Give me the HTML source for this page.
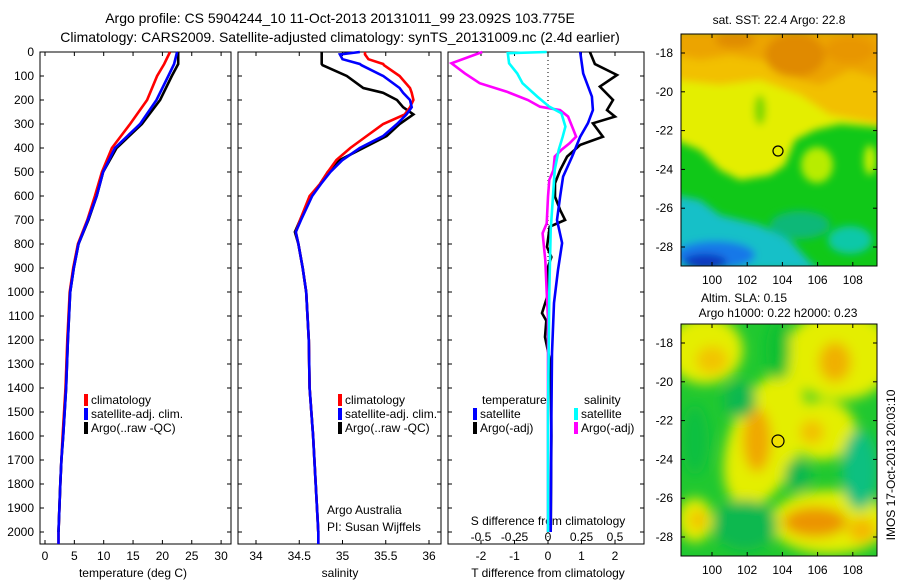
<!DOCTYPE html>
<html><head><meta charset="utf-8"><style>
html,body{margin:0;padding:0;background:#fff;}
svg{display:block;font-family:"Liberation Sans",sans-serif;}
text{font-size:12px;fill:#000;}
</style></head><body>
<svg id="chart" width="900" height="580" viewBox="0 0 900 580" xmlns="http://www.w3.org/2000/svg">
<defs>
<filter id="blur1" x="-20%" y="-20%" width="140%" height="140%"><feGaussianBlur stdDeviation="4"/></filter>
<filter id="blur2" x="-20%" y="-20%" width="140%" height="140%"><feGaussianBlur stdDeviation="6"/></filter>
<clipPath id="clipTop"><rect x="681" y="34" width="196" height="232"/></clipPath>
<clipPath id="clipBot"><rect x="681" y="324" width="196" height="232"/></clipPath>
</defs>
<text x="340" y="23" text-anchor="middle" style="font-size:14px">Argo profile: CS 5904244_10 11-Oct-2013 20131011_99 23.092S 103.775E</text>
<text x="340" y="42" text-anchor="middle" style="font-size:14px">Climatology: CARS2009. Satellite-adjusted climatology: synTS_20131009.nc (2.4d earlier)</text>

<!-- top SST map -->
<g clip-path="url(#clipTop)">
<rect x="681" y="34" width="196" height="232" fill="#10c818"/>
<g filter="url(#blur1)">
<polygon points="675,30 885,30 885,128 840,124 815,130 795,140 785,165 770,175 740,180 720,170 700,150 675,140" fill="#e4ee00"/>
<polygon points="675,30 885,30 885,125 830,115 800,95 760,80 720,85 675,80" fill="#f2c000"/>
<polygon points="675,30 885,30 885,80 850,70 820,85 800,80 770,62 730,55 700,60 675,55" fill="#eca400"/>
<ellipse cx="795" cy="55" rx="30" ry="22" fill="#e08a00"/>
<ellipse cx="735" cy="40" rx="20" ry="8" fill="#e08c00"/>
<ellipse cx="850" cy="50" rx="25" ry="14" fill="#e89600"/>
<ellipse cx="817" cy="165" rx="16" ry="18" fill="#b8ec00"/>
<ellipse cx="760" cy="110" rx="6" ry="15" fill="#7cd800"/>
<ellipse cx="870" cy="160" rx="6" ry="15" fill="#c8f000"/>
<polygon points="675,195 700,200 720,215 760,225 790,240 810,262 820,270 675,270" fill="#14c0c8"/>
<ellipse cx="715" cy="255" rx="40" ry="14" fill="#1878e8"/>
<ellipse cx="705" cy="262" rx="22" ry="8" fill="#0838c0"/>
<ellipse cx="850" cy="240" rx="22" ry="14" fill="#10c8a8"/>
<ellipse cx="800" cy="225" rx="30" ry="14" fill="#10b878"/>
</g>
</g>
<rect x="681" y="34" width="196" height="232" fill="none" stroke="#000"/>
<circle cx="778" cy="151" r="5" fill="none" stroke="#000" stroke-width="1.2"/>
<text x="779" y="24" text-anchor="middle">sat. SST: 22.4 Argo: 22.8</text>

<!-- bottom SLA map -->
<g clip-path="url(#clipBot)">
<rect x="681" y="324" width="196" height="232" fill="#20c830"/>
<g filter="url(#blur2)">
<ellipse cx="705" cy="350" rx="38" ry="34" fill="#e4ee00"/>
<ellipse cx="840" cy="355" rx="55" ry="45" fill="#e4ee00"/>
<ellipse cx="765" cy="440" rx="36" ry="70" fill="#e4ee00" transform="rotate(20 765 440)"/>
<ellipse cx="822" cy="430" rx="34" ry="30" fill="#e4ee00"/>
<ellipse cx="830" cy="522" rx="60" ry="32" fill="#e4ee00"/>
<ellipse cx="695" cy="520" rx="18" ry="22" fill="#e4ee00"/>
<ellipse cx="712" cy="360" rx="16" ry="14" fill="#f2c400"/>
<ellipse cx="835" cy="362" rx="16" ry="20" fill="#f0b000"/>
<ellipse cx="757" cy="440" rx="14" ry="32" fill="#f0a800"/>
<ellipse cx="812" cy="432" rx="12" ry="12" fill="#f2c000"/>
<ellipse cx="815" cy="522" rx="32" ry="15" fill="#ec9400"/>
<ellipse cx="862" cy="530" rx="14" ry="12" fill="#f4b800"/>
<ellipse cx="698" cy="520" rx="8" ry="10" fill="#f4bc00"/>
<ellipse cx="740" cy="400" rx="16" ry="18" fill="#10b850"/>
<ellipse cx="778" cy="350" rx="12" ry="30" fill="#10c030"/>
<ellipse cx="695" cy="440" rx="14" ry="35" fill="#10c040"/>
<ellipse cx="798" cy="475" rx="13" ry="16" fill="#10b850"/>
<ellipse cx="860" cy="470" rx="18" ry="40" fill="#10c080"/>
<ellipse cx="745" cy="525" rx="32" ry="25" fill="#10b850"/>
</g>
</g>
<rect x="681" y="324" width="196" height="232" fill="none" stroke="#000"/>
<circle cx="778" cy="441" r="6" fill="#f0e000" stroke="#000" stroke-width="1.2"/>
<text x="744" y="302" text-anchor="middle">Altim. SLA: 0.15</text>
<text x="778" y="317" text-anchor="middle">Argo h1000: 0.22 h2000: 0.23</text>
<text transform="translate(895,465) rotate(-90)" text-anchor="middle">IMOS 17-Oct-2013 20:03:10</text>

<g id="plots"></g>
</svg>
<script>
// ===== data =====
var depthTicks = [0,100,200,300,400,500,600,700,800,900,1000,1100,1200,1300,1400,1500,1600,1700,1800,1900,2000];
var tempTicks = [0,5,10,15,20,25,30];
var salTicks = [34,34.5,35,35.5,36];
var tdiffTicks = [-2,-1,0,1,2];
var sdiffTicks = [-0.5,-0.25,0,0.25,0.5];
var sdiffLabels = ["-0.5","-0.25","0","0.25","0.5"];

var tDepth = [0,50,100,200,300,400,500,600,700,800,900,1000,1200,1400,1600,1700,1800,2000,2050];
var tClim  = [21.3,20.3,19.1,17.4,14.5,11.4,9.7,8.5,7.2,5.6,4.8,4.2,3.8,3.5,3.0,2.8,2.6,2.3,2.3];
var tSat   = [22.5,22.0,21.0,19.0,16.2,11.9,9.9,8.8,7.3,5.7,4.9,4.3,3.9,3.6,3.1,2.8,2.6,2.3,2.3];
var tArgo  = [22.7,22.7,21.6,19.6,16.5,12.2,9.9,8.8,7.4,5.7,4.9,4.3,3.9,3.6,3.1,2.8,2.6,2.3];

var sDepth = [0,10,30,50,55,100,150,170,200,230,260,300,350,400,450,500,550,600,700,750,800,900,1000,1200,1400,1600,1800,2000,2050];
var sClim  = [35.26,35.26,35.30,35.47,35.48,35.66,35.78,35.80,35.82,35.78,35.72,35.47,35.28,35.09,34.93,34.83,34.74,34.62,34.51,34.46,34.49,34.54,34.58,34.61,34.62,34.66,34.69,34.72,34.72];
var sSat   = [35.20,34.97,35.00,35.20,35.22,35.47,35.66,35.70,35.78,35.80,35.74,35.63,35.47,35.20,35.00,34.86,34.75,34.65,34.52,34.46,34.49,34.54,34.58,34.61,34.62,34.66,34.69,34.72,34.72];
var sArgo  = [34.76,34.76,34.76,34.76,34.77,35.05,35.24,35.47,35.63,35.70,35.82,35.66,35.51,35.24,34.97,34.83,34.74,34.63,34.51,34.45,34.49,34.54,34.58,34.61,34.62,34.66,34.69,34.72];

var dTDepthArgo = [0,50,96,144,200,242,269,297,353,387,436,492,547,603,658,700,728,812,854,896,1000,1088,1120,1188,1300,1600,2000];
var dTArgo      = [1.25,1.4,2.06,1.55,1.94,1.76,2.0,1.34,1.64,0.96,0.57,0.36,0.21,0.21,0.36,0.51,0.05,-0.03,0.1,0.0,0.02,-0.18,-0.05,-0.09,0.08,0.1,0.08];
var dTDepthSat = [0,89,186,242,297,353,436,519,603,700,796,908,1046,1254,1521,2000];
var dTSat      = [0.96,1.05,1.31,1.34,1.19,0.96,0.72,0.45,0.36,0.27,0.42,0.3,0.18,0.12,0.1,0.08];
var dSDepthArgo = [0,47,89,130,165,200,228,242,269,325,353,381,408,436,492,533,603,714,755,867,1000,1115,1500,2000];
var dSArgo      = [-0.49,-0.72,-0.62,-0.51,-0.31,-0.15,-0.06,0.09,0.15,0.19,0.21,0.16,0.1,0.05,0.04,0.01,0.0,-0.01,-0.04,-0.02,-0.01,0.0,0.0,0.0];
var dSDepthSat = [0,5,47,89,130,186,228,255,311,353,408,492,575,742,1000,1500,2000];
var dSSat      = [-0.01,-0.3,-0.29,-0.23,-0.19,-0.08,0.01,0.1,0.13,0.11,0.08,0.05,0.04,0.02,0.01,0.0,0.0];

// ===== geometry =====
var NS = "http://www.w3.org/2000/svg";
var Y0 = 52, YB = 544;
function yD(d){ return Y0 + d*0.24; }
function xT(t){ return 45 + t*5.87; }
function xS(s){ return 256 + (s-34)*86.5; }
function xDT(v){ return 548 + v*33.5; }
function xDS(v){ return 548 + v*134; }
var g = document.getElementById('plots');
function el(tag, attrs, parent){
  var e = document.createElementNS(NS, tag);
  for (var k in attrs) e.setAttribute(k, attrs[k]);
  (parent||g).appendChild(e); return e;
}
function txt(s, x, y, anchor, name, parent){
  var t = el('text', {x:x, y:y, 'text-anchor':anchor||'middle'}, parent);
  
  
  t.textContent = s; return t;
}
function line(xs, ds, fx, color, name){
  var pts = xs.map(function(v,i){ return fx(v).toFixed(1)+','+yD(ds[i]).toFixed(1); }).join(' ');
  var p = el('polyline', {points:pts, fill:'none', stroke:color, 'stroke-width':2.6, 'stroke-linejoin':'miter'});
  
  
}
var panels = [[40,231],[238,441],[448,644]];
panels.forEach(function(p, i){
  var r = el('rect', {x:p[0], y:Y0, width:p[1]-p[0], height:YB-Y0, fill:'none', stroke:'#000'});
  
  
  depthTicks.forEach(function(d){
    el('line', {x1:p[0], x2:p[0]+4, y1:yD(d), y2:yD(d), stroke:'#000'});
    el('line', {x1:p[1], x2:p[1]-4, y1:yD(d), y2:yD(d), stroke:'#000'});
  });
});
depthTicks.forEach(function(d){ txt(String(d), 34, yD(d)+4, 'end', 'depth-tick-label'); });
tempTicks.forEach(function(t){
  el('line', {x1:xT(t), x2:xT(t), y1:YB, y2:YB-4, stroke:'#000'});
  el('line', {x1:xT(t), x2:xT(t), y1:Y0, y2:Y0+4, stroke:'#000'});
  txt(String(t), xT(t), 560, 'middle', 'temp-tick-label');
});
salTicks.forEach(function(s){
  el('line', {x1:xS(s), x2:xS(s), y1:YB, y2:YB-4, stroke:'#000'});
  el('line', {x1:xS(s), x2:xS(s), y1:Y0, y2:Y0+4, stroke:'#000'});
  txt(String(s), xS(s), 560, 'middle', 'salinity-tick-label');
});
tdiffTicks.forEach(function(v){
  el('line', {x1:xDT(v), x2:xDT(v), y1:YB, y2:YB-4, stroke:'#000'});
  el('line', {x1:xDT(v), x2:xDT(v), y1:Y0, y2:Y0+4, stroke:'#000'});
  txt(String(v), xDT(v), 560, 'middle', 't-diff-tick-label');
});
sdiffTicks.forEach(function(v,i){ txt(sdiffLabels[i], xDS(v), 541, 'middle', 's-diff-tick-label'); });
txt('temperature (deg C)', 133, 577, 'middle', 'temperature-axis-title');
txt('salinity', 340, 577, 'middle', 'salinity-axis-title');
txt('T difference from climatology', 548, 577, 'middle', 't-diff-axis-title');
txt('S difference from climatology', 548, 525, 'middle', 's-diff-axis-title');
txt('Argo Australia', 327, 514, 'start', 'credit-line-1');
txt('PI: Susan Wijffels', 327, 531, 'start', 'credit-line-2');
var z = el('line', {x1:548, x2:548, y1:Y0, y2:YB, stroke:'#000', 'stroke-dasharray':'1,3'});



line(tClim, tDepth, xT, '#f00', 'temp-climatology-line');
line(tArgo, tDepth.slice(0,tArgo.length), xT, '#000', 'temp-argo-line');
line(tSat, tDepth, xT, '#00f', 'temp-satellite-line');
line(sArgo, sDepth.slice(0,sArgo.length), xS, '#000', 'sal-argo-line');
line(sClim, sDepth, xS, '#f00', 'sal-climatology-line');
line(sSat, sDepth, xS, '#00f', 'sal-satellite-line');
line(dTArgo, dTDepthArgo, xDT, '#000', 'tdiff-argo-line');
line(dSArgo, dSDepthArgo, xDS, '#f0f', 'sdiff-argo-line');
line(dTSat, dTDepthSat, xDT, '#00f', 'tdiff-satellite-line');
line(dSSat, dSDepthSat, xDS, '#0ff', 'sdiff-satellite-line');

function legendEntry(x, y, color, label, name){
  el('rect', {x:x, y:y-10, width:4, height:12, fill:color});
  txt(label, x+7, y, 'start', name);
}
legendEntry(84, 404, '#f00', 'climatology', 'legend-temp-climatology');
legendEntry(84, 418, '#00f', 'satellite-adj. clim.', 'legend-temp-satellite');
legendEntry(84, 432, '#000', 'Argo(..raw -QC)', 'legend-temp-argo');
legendEntry(338, 404, '#f00', 'climatology', 'legend-sal-climatology');
legendEntry(338, 418, '#00f', 'satellite-adj. clim.', 'legend-sal-satellite');
legendEntry(338, 432, '#000', 'Argo(..raw -QC)', 'legend-sal-argo');
txt('temperature', 482, 404, 'start', 'legend-temperature-header');
txt('salinity', 584, 404, 'start', 'legend-salinity-header');
legendEntry(473, 418, '#00f', 'satellite', 'legend-tdiff-satellite');
legendEntry(473, 432, '#000', 'Argo(-adj)', 'legend-tdiff-argo');
legendEntry(574, 418, '#0ff', 'satellite', 'legend-sdiff-satellite');
legendEntry(574, 432, '#f0f', 'Argo(-adj)', 'legend-sdiff-argo');

var mapLats = [-18,-20,-22,-24,-26,-28];
var mapLons = [100,102,104,106,108];
[[34,53,'sst'],[324,343,'sla']].forEach(function(m){
  mapLats.forEach(function(la){
    var y = m[1] + (-18-la)*19.4;
    el('line', {x1:681, x2:685, y1:y, y2:y, stroke:'#000'});
    el('line', {x1:877, x2:873, y1:y, y2:y, stroke:'#000'});
    txt(String(la), 673, y+4, 'end', m[2]+'-lat-label');
  });
  mapLons.forEach(function(lo){
    var x = 712 + (lo-100)*17.6;
    el('line', {x1:x, x2:x, y1:m[0]+232, y2:m[0]+228, stroke:'#000'});
    el('line', {x1:x, x2:x, y1:m[0], y2:m[0]+4, stroke:'#000'});
    txt(String(lo), x, m[0]+250, 'middle', m[2]+'-lon-label');
  });
});
</script>
</body></html>
